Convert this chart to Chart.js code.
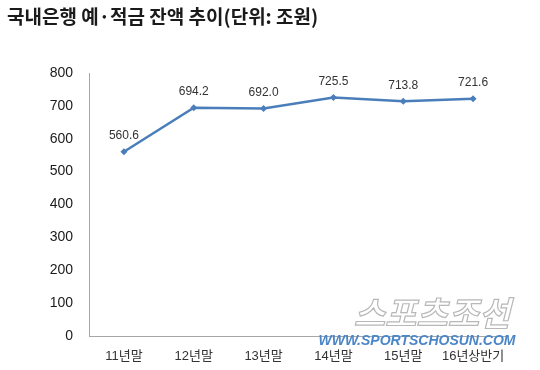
<!DOCTYPE html>
<html>
<head>
<meta charset="utf-8">
<script src="https://cdn.jsdelivr.net/npm/chart.js@4"></script>
<style>
  html, body { margin: 0; padding: 0; background: #fff; }
  #wrap { width: 540px; height: 370px; position: relative; }
</style>
</head>
<body>
<div id="wrap"><canvas id="grafico"></canvas></div>
<script>
// categorias y valores (단위: 조원)
const categorias = ["11년말", "12년말", "13년말", "14년말", "15년말", "16년상반기"];
const saldo = [560.6, 694.2, 692.0, 725.5, 713.8, 721.6];
const titulo = "국내은행 예·적금 잔액 추이(단위: 조원)";
const yTicks = [0, 100, 200, 300, 400, 500, 600, 700, 800];

const fuente = "'Liberation Sans', 'Noto Sans CJK KR', sans-serif";

// titulo, etiquetas de valores y marca de agua
const extras = {
  id: "extras",
  afterDraw(chart) {
    const ctx = chart.ctx;
    ctx.save();
    // titulo
    ctx.fillStyle = "#1a1a1a";
    ctx.font = "bold 19px 'Noto Sans CJK KR', sans-serif";
    ctx.textAlign = "left";
    ctx.textBaseline = "middle";
    ctx.fillText(titulo, 7, 17);

    // etiquetas encima de los puntos
    const meta = chart.getDatasetMeta(0);
    ctx.font = "12px " + fuente;
    ctx.fillStyle = "#333";
    ctx.textAlign = "center";
    meta.data.forEach((p, i) => {
      ctx.fillText(saldo[i].toFixed(1), p.x, p.y - 16);
    });

    // marca de agua
    ctx.font = "italic bold 34px 'Noto Sans CJK KR', sans-serif";
    ctx.textAlign = "center";
    ctx.lineWidth = 1.2;
    ctx.strokeStyle = "#b8b8b8";
    ctx.fillStyle = "rgba(255,255,255,0.85)";
    ctx.fillText("스포츠조선", 432, 313);
    ctx.strokeText("스포츠조선", 432, 313);

    ctx.font = "italic bold 14px 'Liberation Sans', sans-serif";
    ctx.fillStyle = "#4a86c8";
    ctx.fillText("WWW.SPORTSCHOSUN.COM", 417, 341);
    ctx.restore();
  }
};

new Chart("grafico", {
  type: "line",
  data: {
    labels: categorias,
    datasets: [{
      data: saldo,
      borderColor: "#4a7ebb",
      backgroundColor: "#4a7ebb",
      borderWidth: 2.5,
      pointStyle: "rectRot",
      pointRadius: 3.5,
      pointBorderWidth: 0,
      tension: 0
    }]
  },
  options: {
    responsive: true,
    maintainAspectRatio: false,
    animation: false,
    layout: { padding: { top: 73, right: 32, left: 0, bottom: 0 } },
    plugins: {
      legend: { display: false },
      title: { display: false },
      tooltip: { enabled: false }
    },
    scales: {
      x: {
        offset: true,
        grid: { display: false, drawTicks: false },
        border: { display: true, color: "#a6a6a6", width: 1 },
        ticks: {
          color: "#333",
          font: { size: 13, family: fuente },
          padding: 13
        },
        afterFit(s) { s.height = 34; }
      },
      y: {
        min: 0,
        max: 800,
        afterBuildTicks(s) { s.ticks = yTicks.map(v => ({ value: v })); },
        grid: { display: false, drawTicks: false },
        border: { display: true, color: "#a6a6a6", width: 1 },
        ticks: {
          color: "#1a1a1a",
          font: { size: 14, family: fuente },
          padding: 16
        },
        afterFit(s) { s.width = 89; }
      }
    }
  },
  plugins: [extras]
});
</script>
</body>
</html>
